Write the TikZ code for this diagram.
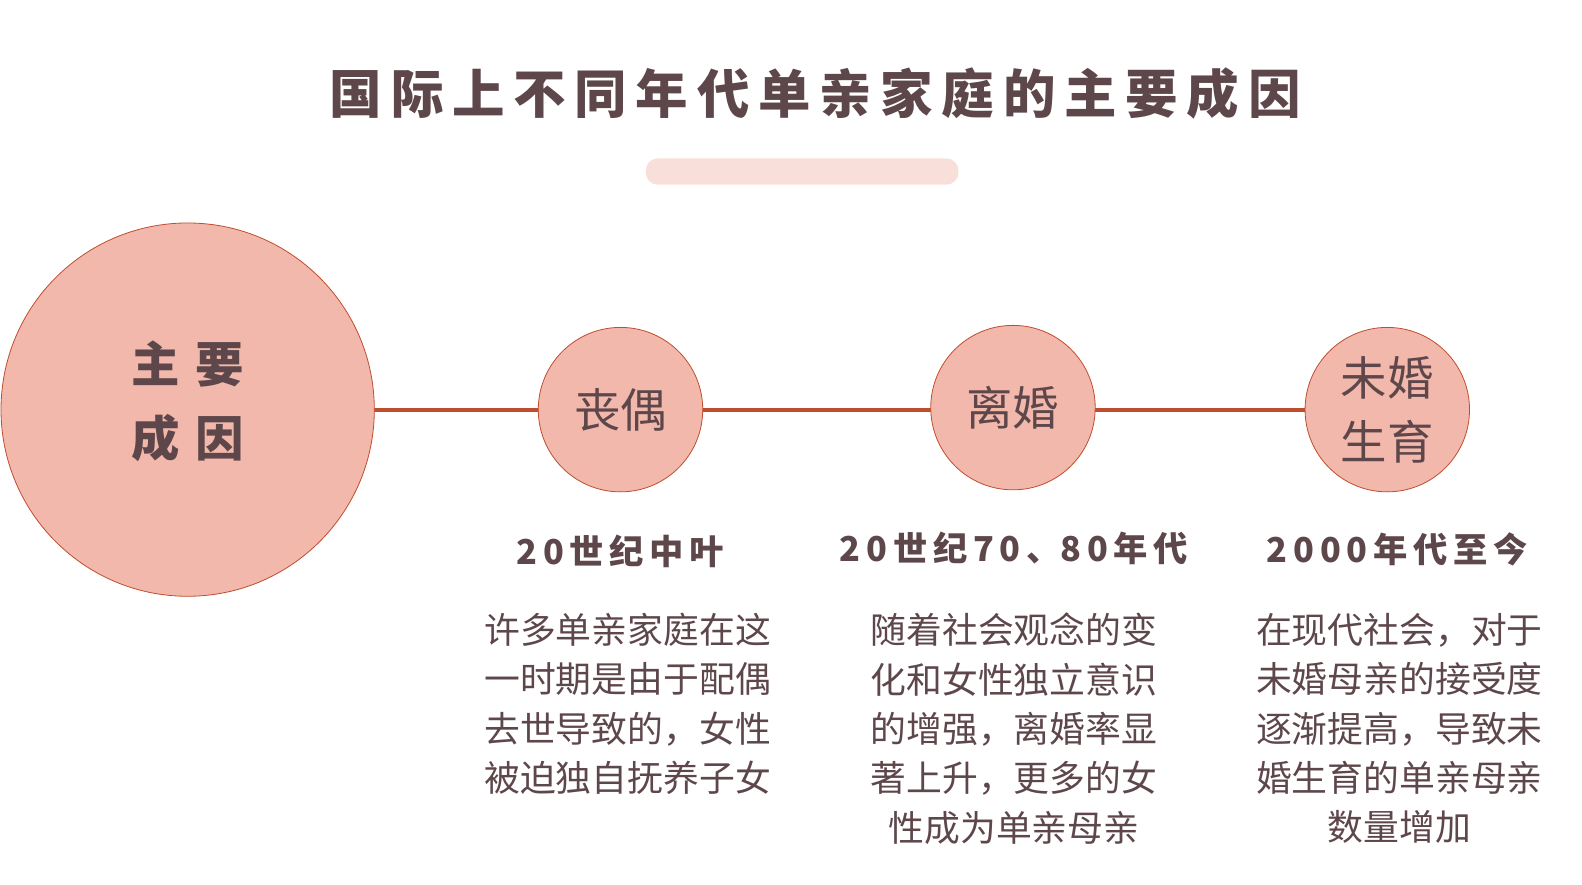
\documentclass[tikz,border=0pt]{standalone}
\usepackage{fontspec}
\newfontfamily\cjk{Noto Sans CJK SC}
\definecolor{inkbrown}{HTML}{5E474B}
\definecolor{rosefill}{HTML}{F3B8AC}
\definecolor{rustline}{HTML}{BF4E2F}
\definecolor{pillpink}{HTML}{F9DFDA}
\tikzset{
  cause/.style={circle, draw=rustline, line width=0.8pt, fill=rosefill, inner sep=0pt, text=inkbrown, align=center},
  era/.style={text=inkbrown, font=\cjk\bfseries\fontsize{34}{40}\selectfont},
  story/.style={text=inkbrown, align=center, font=\cjk\fontsize{35.5}{49}\selectfont}
}
\begin{document}
\begin{tikzpicture}[x=1pt, y=-1pt]
        \useasboundingbox (0,0) rectangle (1568,877);
        \node[text=inkbrown, font=\cjk\bfseries\fontsize{52}{60}\selectfont] (title) at (808,93) {国\,际\,上\,不\,同\,年\,代\,单\,亲\,家\,庭\,的\,主\,要\,成\,因};
        \fill[pillpink, rounded corners=12pt] (640,157) rectangle (950,183);
        % main circle and the three causes
        \draw[rustline, line width=4pt] (186,406) -- (1375,406);
        \node[cause, minimum size=370pt] (main) at (186,406) {};
        \node[text=inkbrown, align=center, font=\cjk\bfseries\fontsize{48}{73}\selectfont] (mainlabel) at (186,398) {主\,\,要\\成\,\,因};
        \node[cause, minimum size=163pt, font=\cjk\fontsize{46}{60}\selectfont] (widow) at (615,406) {丧偶};
        \node[cause, minimum size=163pt, font=\cjk\fontsize{46}{60}\selectfont] (divorce) at (1004,404) {离婚};
        \node[cause, minimum size=163pt, font=\cjk\fontsize{46}{63}\selectfont] (unwed) at (1375,406) {未婚\\生育};
        \node[era] (eraA) at (615,546) {2\,0\,世\,纪\,中\,叶};
        \node[era] (eraB) at (1005,544) {2\,0\,世\,纪\,7\,0\,、8\,0\,年\,代};
        \node[era] (eraC) at (1385,544) {2\,0\,0\,0\,年\,代\,至\,今};
        \node[story, anchor=north] (textA) at (622,604) {许多单亲家庭在这\\一时期是由于配偶\\去世导致的，女性\\被迫独自抚养子女};
        \node[story, anchor=north] (textB) at (1005,604) {随着社会观念的变\\化和女性独立意识\\的增强，离婚率显\\著上升，更多的女\\性成为单亲母亲};
        \node[story, anchor=north] (textC) at (1387,604) {在现代社会，对于\\未婚母亲的接受度\\逐渐提高，导致未\\婚生育的单亲母亲\\数量增加};
    \end{tikzpicture}
\end{document}
